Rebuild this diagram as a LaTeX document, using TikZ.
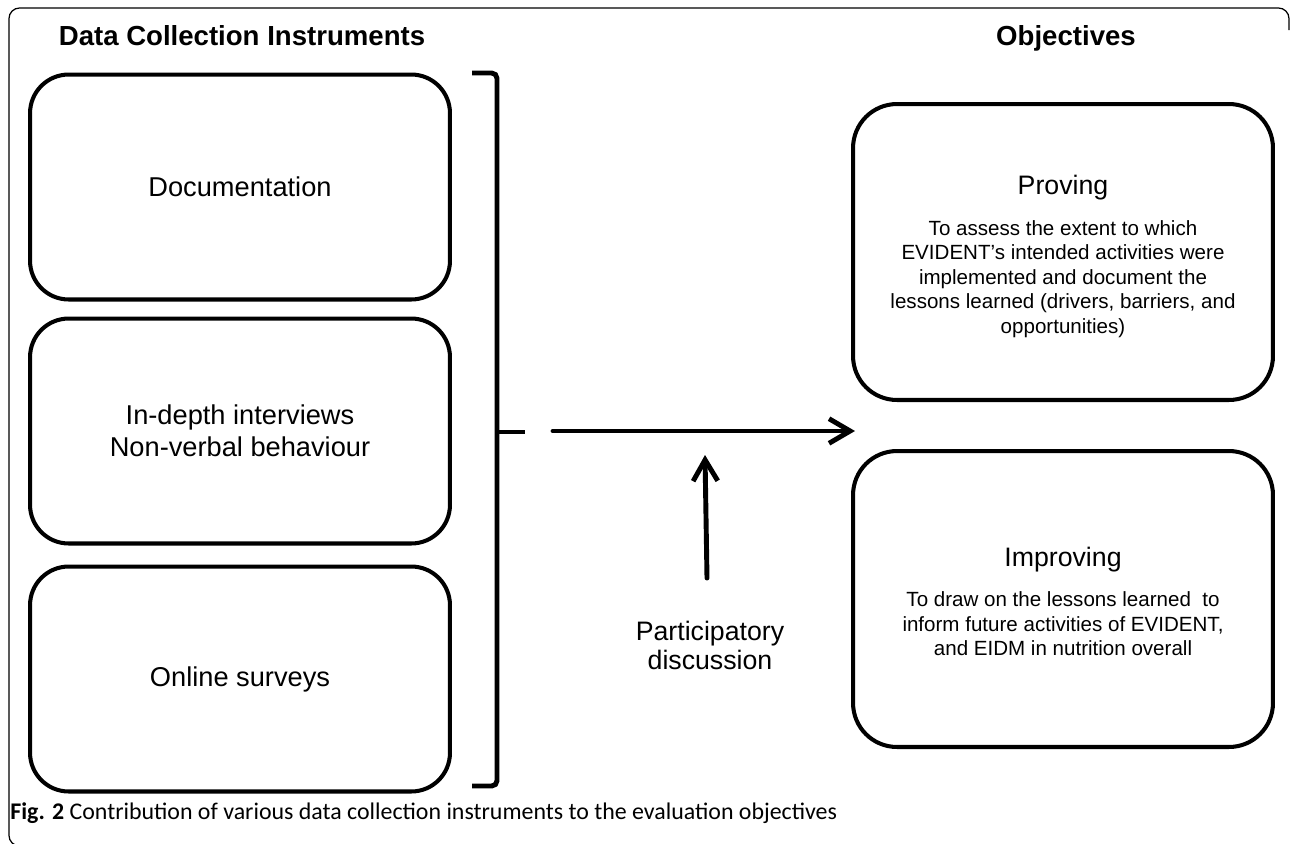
\documentclass[tikz,border=0pt]{standalone}
\usepackage{fontspec}
\setmainfont{Liberation Sans}
\newfontfamily\capfont{Carlito}
\usetikzlibrary{arrows.meta,positioning}

\tikzset{
  instbox/.style={draw, line width=2.3pt, rounded corners=22pt, minimum width=8.4cm,
    minimum height=4.5cm, inner sep=0pt, align=center, font=\fontsize{15.5}{18.5}\selectfont},
  objbox/.style={draw, line width=2.3pt, rounded corners=25pt, minimum width=8.4cm,
    minimum height=5.92cm, inner sep=0pt},
  coltitle/.style={anchor=base, inner sep=0pt, font=\bfseries\fontsize{15.7}{17}\selectfont},
  headtext/.style={inner sep=0pt, font=\fontsize{15.2}{17}\selectfont},
  bodytext/.style={inner sep=0pt, align=center, font=\fontsize{11.7}{13.9}\selectfont},
  flow/.style={line width=2.8pt, line cap=round, -{Straight Barb[length=12pt,width=14pt]}},
}

\begin{document}
\begin{tikzpicture}[x=0.02cm, y=-0.02cm]
\useasboundingbox (0,0) rectangle (1292,843);
\clip (0,0) rectangle (1292,843);
% figure frame
\draw[line width=0.7pt, rounded corners=6pt] (1289,30) -- (1289,8) -- (9,8) -- (9,846) -- (40,846);

% column titles
\node[coltitle] (insttitle) at (242,45) {Data Collection Instruments};
\node[coltitle] (objtitle) at (1066,45) {Objectives};

% instruments
\node[instbox] (docs) at (240,187) {Documentation};
\node[instbox] (interviews) at (240,431) {In-depth interviews\\Non-verbal behaviour};
\node[instbox] (surveys) at (240,679) {Online surveys};

% bracket
\draw[line width=2.8pt, rounded corners=3pt] (472,73) -- (497,73) -- (497,786) -- (472,786);
\draw[line width=2.8pt] (497,432) -- (525,432);

% objectives
\node[objbox] (proving) at (1063,252) {};
\node[headtext] (provhead) at (1063,188) {Proving};
\node[bodytext] (provbody) at (1063,279) {To assess the extent to which\\EVIDENT’s intended activities were\\implemented and document the\\lessons learned (drivers, barriers, and\\opportunities)};

\node[objbox] (improving) at (1063,599) {};
\node[headtext] (imphead) at (1063,560) {Improving};
\node[bodytext] (impbody) at (1063,624) {To draw on the lessons learned~ to\\inform future activities of EVIDENT,\\and EIDM in nutrition overall};

% arrows
\coordinate (flowin) at (553,431);
\coordinate (flowout) at (855,431);
\draw[flow] (flowin) -- (flowout);

\node[headtext, align=center, font=\fontsize{15.2}{16.5}\selectfont] (discussion) at (710,645) {Participatory\\discussion};
\coordinate (discin) at (707,578);
\coordinate (discout) at (705,455);
\draw[flow] (discin) -- (discout);

% caption
\node[anchor=base west, inner sep=0pt, font=\capfont\fontsize{13.6}{15}\selectfont] (caption) at (10,819)
  {\textbf{Fig. 2} Contribution of various data collection instruments to the evaluation objectives};
\end{tikzpicture}
\end{document}
